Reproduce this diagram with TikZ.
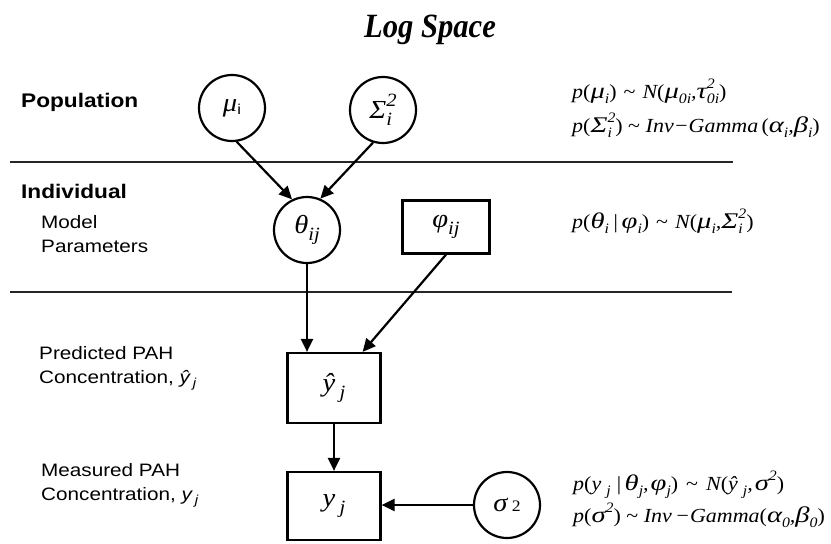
\documentclass[tikz,border=0pt]{standalone}
\usepackage{graphicx}
\usepackage{fontspec}
\usetikzlibrary{arrows.meta,calc}
\newfontfamily\fml{Liberation Serif}[FakeStretch=1.1]
\newfontfamily\lab{Liberation Sans}[FakeStretch=1.15]
\newfontfamily\ttl{Liberation Serif}[FakeStretch=0.9]
% sub- and superscripts, scaled from the surrounding font
\newcommand\lo[1]{\raisebox{-0.25em}{\scalebox{0.72}{#1}}}
\newcommand\hi[1]{\raisebox{0.46em}{\scalebox{0.72}{#1}}}
\newcommand\hilo[2]{{\ooalign{\hi{#1}\cr\lo{#2}\cr}}}
\newcommand\lp{{\upshape(}}
\newcommand\rp{{\upshape)}}
\newcommand\tl{{\upshape\textasciitilde}}
% wide Greek letters in the formulas
\newcommand\gk[1]{\scalebox{1.3}[1.12]{#1}}
\begin{document}
\begin{tikzpicture}[x=1pt,y=-1pt,
  var/.style={circle,draw,line width=2.2pt,minimum size=66pt,inner sep=0pt,
    font=\fml\fontsize{26}{28}\selectfont\itshape},
  pbox/.style={rectangle,draw,line width=2.2pt,inner sep=0pt,
    font=\fml\fontsize{26}{28}\selectfont\itshape},
  arr/.style={line width=2.2pt,-{Triangle[length=13pt,width=12pt]}},
  sep/.style={line width=1.3pt,draw=black!85},
  head/.style={anchor=base west,inner sep=0pt,font=\lab\fontsize{19.7}{22}\selectfont\bfseries},
  side/.style={anchor=base west,inner sep=0pt,align=left,font=\lab\fontsize{18}{23.5}\selectfont},
  eqn/.style={anchor=base west,inner sep=0pt,font=\fml\fontsize{20}{22}\selectfont\itshape}]
\useasboundingbox (0,0) rectangle (831,544);

% title
\node[anchor=base,font=\ttl\fontsize{34}{38}\selectfont\bfseries\itshape] (title) at (430,37) {Log Space};

% level separators
\draw[sep] (10,162) -- (733,162);
\draw[sep] (10,292) -- (732,292);

% level labels
\node[head] (pop) at (21,107) {Population};
\node[head] (ind) at (21,198) {Individual};
\node[side] (mp) at (41,252) {Model\\Parameters};
\node[side] (pred) at (39,383) {Predicted PAH\\Concentration, {\itshape ŷ\,\lo{j}}};
\node[side] (meas) at (41,500) {Measured PAH\\Concentration, {\itshape y\,\lo{j}}};

% graph nodes
\node[var] (mu) at (232,108) {μ\raisebox{-0.12em}{\scalebox{0.55}{\upshape\lab i}}};
\node[var] (Sig) at (383,110) {Σ\hilo{2}{i}};
\node[var] (theta) at (307,230) {θ\lo{ij}};
\node[pbox,minimum width=87pt,minimum height=53pt] (phi) at (446,227) {φ\lo{ij}};
\node[pbox,minimum width=93pt,minimum height=70pt] (yhat) at (334,388) {ŷ\,\lo{j}};
\node[pbox,minimum width=93pt,minimum height=68pt] (y) at (334,506) {y\,\lo{j}};
\node[var] (sig2) at (507,505) {σ\,{\upshape\fontsize{16}{16}\selectfont 2}};

% dependencies
\draw[arr] (mu.-82) -- (theta.116);
\draw[arr] (Sig.-107) -- (theta.67);
\draw[arr] (theta.south) -- (theta.south |- yhat.north);
\draw[arr] (phi.south) -- ($(yhat.north east)+(-19,0)$);
\draw[arr] (yhat.south) -- (y.north);
\draw[arr] (sig2.west) -- (sig2.west -| y.east);

% distributions
\node[eqn] (e1) at (572,98) {p\lp\gk{μ}\lo{i}\rp\hspace{7pt}\tl\hspace{7pt}N\lp\gk{μ}\lo{0i},\gk{τ}\hilo{2}{0i}\rp};
\node[eqn] (e2) at (572,132) {p\lp\gk{Σ}\hilo{2}{i}\rp\ \tl\ Inv−Gamma\,\lp\gk{α}\lo{i},\gk{β}\lo{i}\rp};
\node[eqn] (e3) at (572,228) {p\lp\gk{θ}\lo{i}\,|\,\gk{φ}\lo{i}\rp\hspace{7pt}\tl\hspace{7pt}N\lp\gk{μ}\lo{i},\gk{Σ}\hilo{2}{i}\rp};
\node[eqn] (e4) at (573,490) {p\lp y\hspace{5pt}\lo{j}\hspace{5pt}|\hspace{3pt}\gk{θ}\lo{j},\hspace{2pt}\gk{φ}\lo{j}\rp\hspace{8pt}\tl\hspace{8pt}N\lp ŷ\hspace{5pt}\lo{j},\hspace{2pt}\gk{σ}\hi{2}\rp};
\node[eqn] (e5) at (573,522) {p\lp\gk{σ}\hi{2}\rp\ \tl\ Inv\,−Gamma\lp\gk{α}\lo{0},\gk{β}\lo{0}\rp};
\end{tikzpicture}
\end{document}
